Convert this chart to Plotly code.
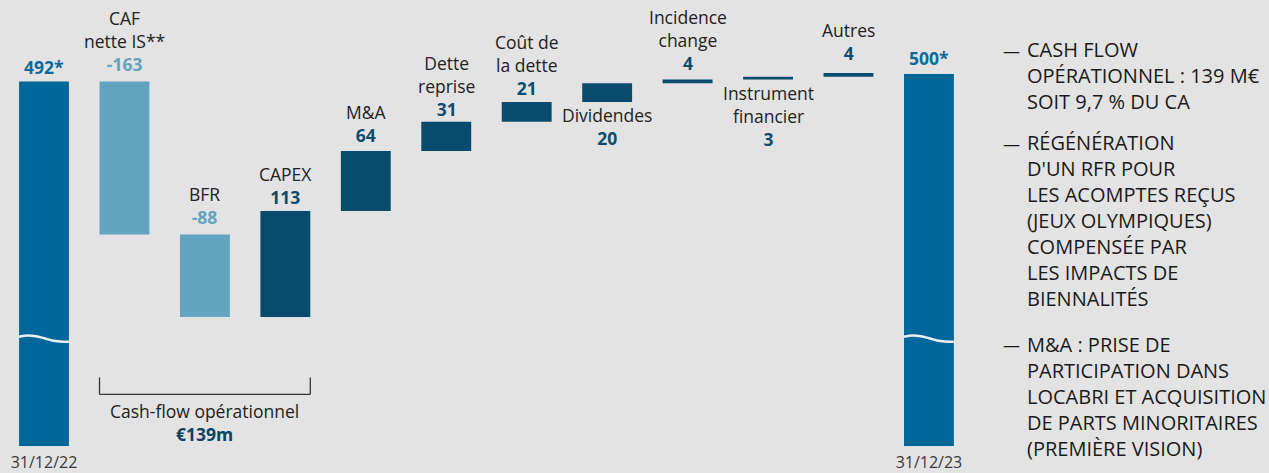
import plotly.graph_objects as go

# ---------------- data ----------------
categories = ["31/12/22", "CAF nette IS**", "BFR", "CAPEX", "M&A", "Dette reprise",
              "Coût de la dette", "Dividendes", "Incidence change",
              "Instrument financier", "Autres", "31/12/23"]
label_lines = [[], ["CAF", "nette IS**"], ["BFR"], ["CAPEX"], ["M&A"],
               ["Dette", "reprise"], ["Coût de", "la dette"], ["Dividendes"],
               ["Incidence", "change"], ["Instrument", "financier"], ["Autres"], []]
measures = ["absolute"] + ["relative"] * 10 + ["absolute"]
values = [492, -163, -88, 113, 64, 31, 21, 20, 4, 3, 4, 500]
value_labels = ["492*", "-163", "-88", "113", "64", "31", "21", "20", "4", "3", "4", "500*"]
tick_labels = ["31/12/22", "31/12/23"]
bracket_title = "Cash-flow opérationnel"
bracket_value = "€139m"
notes = [
    ["CASH FLOW", "OPÉRATIONNEL : 139 M€", "SOIT 9,7 % DU CA"],
    ["RÉGÉNÉRATION", "D'UN RFR POUR", "LES ACOMPTES REÇUS", "(JEUX OLYMPIQUES)",
     "COMPENSÉE PAR", "LES IMPACTS DE", "BIENNALITÉS"],
    ["M&A : PRISE DE", "PARTICIPATION DANS", "LOCABRI ET ACQUISITION",
     "DE PARTS MINORITAIRES", "(PREMIÈRE VISION)"],
]

# ---------------- layout constants ----------------
W, H = 1269, 473
PLOT_BOTTOM = 449
PX_PER_UNIT = 0.945
START_TOP_PX = 82
FIRST_CX = 44
STEP = 80.45
BAR_W = 0.62

BG = "#e3e3e3"
C_TOTAL = "#00679a"
C_DEC = "#63a4c0"
C_INC = "#084b6c"
C_TXT = "#222222"
FONT = "Open Sans"
LBL = 17.5          # chart label font size
LS = 1.3 * LBL      # plotly line spacing

y_top = values[0] + START_TOP_PX / PX_PER_UNIT
y_bot = values[0] - (PLOT_BOTTOM - START_TOP_PX) / PX_PER_UNIT
x_lo = -FIRST_CX / STEP
x_hi = x_lo + W / STEP


def px2v(py):
    return y_top - py / PX_PER_UNIT


def v2px(v):
    return (y_top - v) * PX_PER_UNIT


xs = list(range(len(categories)))

# bar extents
tops, bottoms = [], []
cum = 0
for m, v in zip(measures, values):
    if m == "absolute":
        tops.append(v)
        bottoms.append(y_bot)
        cum = v
    else:
        new = cum + v
        tops.append(max(cum, new))
        bottoms.append(min(cum, new))
        cum = new

fig = go.Figure()
fig.add_trace(go.Waterfall(
    x=xs, y=values, measure=measures, width=BAR_W,
    increasing=dict(marker=dict(color=C_INC)),
    decreasing=dict(marker=dict(color=C_DEC)),
    totals=dict(marker=dict(color=C_TOTAL)),
    connector=dict(visible=False),
    hoverinfo="skip", showlegend=False,
))

# axis-break waves on the two total bars
wave_dx = [-0.31, -0.2, -0.1, 0.0, 0.1, 0.2, 0.31]
wave_dpx = [-1.5, -2.8, -2.0, 0.0, 2.2, 3.2, 3.5]
break_px = 340.5
for i, m in enumerate(measures):
    if m == "absolute":
        fig.add_trace(go.Scatter(
            x=[xs[i] + d for d in wave_dx],
            y=[px2v(break_px + d) for d in wave_dpx],
            mode="lines", line=dict(color="#eeeeee", width=2.5, shape="spline"),
            hoverinfo="skip", showlegend=False))

# labels (one block per bar: name lines + bold value)
side = ["above"] * 7 + ["below", "above", "below", "above", "above"]
value_off = [15, 17.7, 18, 14.3, 16, 13.7, 14.7, 34, 16.7, 56.7, 20.7, 16]
annotations = []
for i in xs:
    if measures[i] == "absolute":
        vcol = "#0b6a9c"
    elif values[i] < 0:
        vcol = C_DEC
    else:
        vcol = "#0c4d6e"
    lines = label_lines[i]
    n = len(lines)
    vtxt = "<span style='color:%s'><b>%s</b></span>" % (vcol, value_labels[i])
    text = "<br>".join(lines + [vtxt])
    if side[i] == "above":
        vpx = v2px(tops[i]) - value_off[i]
        center = vpx - n * LS / 2
    else:
        first = v2px(bottoms[i]) + 13.5
        center = first + n * LS / 2
    annotations.append(dict(x=xs[i], y=px2v(center), xref="x", yref="y",
                            text=text, showarrow=False, yanchor="middle", align="center",
                            font=dict(family=FONT, size=LBL, color=C_TXT)))

# bracket under operational cash-flow bars
shapes = []
bx0 = xs[1] - BAR_W / 2
bx1 = xs[3] + BAR_W / 2
b_y = 1 - 397 / PLOT_BOTTOM
b_y2 = 1 - 380 / PLOT_BOTTOM
for seg in [(bx0, b_y, bx1, b_y), (bx0, b_y, bx0, b_y2), (bx1, b_y, bx1, b_y2)]:
    shapes.append(dict(type="line", xref="x", yref="paper", x0=seg[0], y0=seg[1],
                       x1=seg[2], y1=seg[3], line=dict(color="#333333", width=1.3)))
annotations.append(dict(
    x=(xs[1] + xs[3]) / 2, y=1 - 425 / PLOT_BOTTOM, xref="x", yref="paper",
    text="%s<br><span style='color:#0d4263'><b>%s</b></span>" % (bracket_title, bracket_value),
    showarrow=False, yanchor="middle", align="center",
    font=dict(family=FONT, size=LBL, color=C_TXT)))

# right-hand notes
NOTE_F = 20
group_first = [50.5, 144, 347]
for g, lines in enumerate(notes):
    center = group_first[g] + (len(lines) - 1) * 1.3 * NOTE_F / 2
    annotations.append(dict(x=1025 / W, y=1 - center / PLOT_BOTTOM, xref="paper", yref="paper",
                            text="<br>".join(lines), showarrow=False, xanchor="left",
                            yanchor="middle", align="left",
                            font=dict(family=FONT, size=NOTE_F, color="#1a1a1a", weight=500)))
    annotations.append(dict(x=1011.5 / W, y=1 - group_first[g] / PLOT_BOTTOM, xref="paper",
                            yref="paper", text="—", showarrow=False, xanchor="center",
                            yanchor="middle",
                            font=dict(family=FONT, size=17, color="#1a1a1a")))

fig.update_layout(
    width=W, height=H,
    margin=dict(l=0, r=0, t=0, b=H - PLOT_BOTTOM),
    paper_bgcolor=BG, plot_bgcolor=BG,
    showlegend=False,
    xaxis=dict(range=[x_lo, x_hi], showgrid=False, zeroline=False, showline=False,
               tickmode="array", tickvals=[xs[0], xs[-1]], ticktext=tick_labels,
               tickfont=dict(family=FONT, size=16, color="#3a3a3a"), ticks="",
               ticklabelstandoff=5),
    yaxis=dict(range=[y_bot, y_top], showgrid=False, zeroline=False, showline=False,
               showticklabels=False),
    annotations=annotations,
    shapes=shapes,
)

fig.write_html("out.html", config={"displayModeBar": False},
               post_script="document.body.style.margin='0px';")
